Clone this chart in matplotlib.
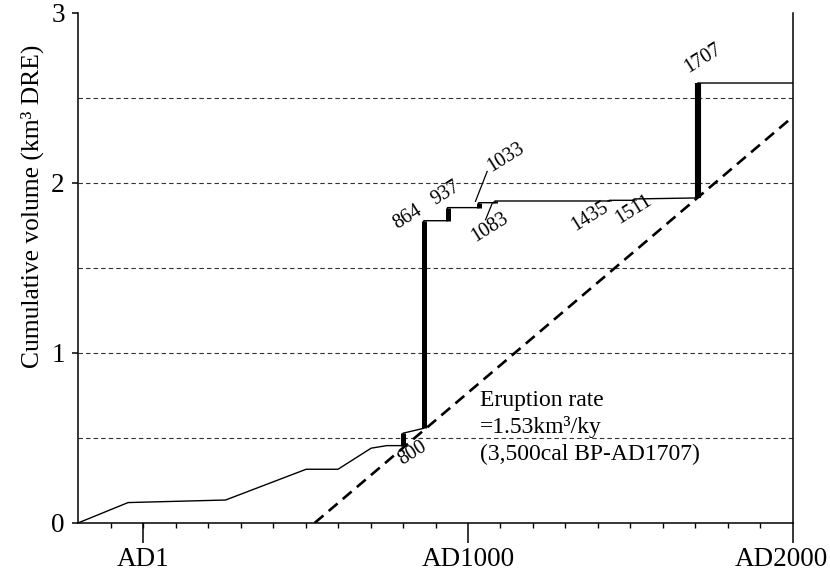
import matplotlib
matplotlib.use("Agg")
import matplotlib.pyplot as plt
import matplotlib.transforms as mtransforms

plt.rcParams['font.family'] = ['Liberation Serif', 'DejaVu Serif']

# cumulative volume curve (year, km3 DRE)
curve_years = [-200, -46, 254, 502, 600, 702, 750, 800, 800, 864, 864, 937, 937,
               1033, 1033, 1083, 1083, 1435, 1435, 1511, 1511, 1707, 1707, 2000]
curve_vols = [0, 0.12, 0.135, 0.316, 0.316, 0.44, 0.455, 0.455, 0.528, 0.557,
              1.778, 1.778, 1.855, 1.855, 1.884, 1.884, 1.894, 1.894, 1.898,
              1.898, 1.906, 1.912, 2.588, 2.588]

# eruptions: year, volume before, volume after
eruption_years = [800, 864, 937, 1033, 1083, 1435, 1511, 1707]
eruption_start = [0.455, 0.557, 1.778, 1.855, 1.884, 1.894, 1.898, 1.912]
eruption_end = [0.528, 1.778, 1.855, 1.884, 1.894, 1.898, 1.906, 2.588]
eruption_labels = ['800', '864', '937', '1033', '1083', '1435', '1511', '1707']
label_pos = [(829, 0.41), (814, 1.80), (931, 1.94), (1116, 2.15),
             (1066, 1.74), (1374, 1.80), (1510, 1.84), (1722, 2.73)]

# long-term eruption rate line
rate_years = [528, 2000]
rate_vols = [0, 2.39]

xtick_pos = [1, 1000, 2000]
xtick_labels = ['AD1', 'AD1000', 'AD2000']
ytick_pos = [0, 1, 2, 3]

fig = plt.figure(figsize=(8.3, 5.74), dpi=100)
ax = fig.add_axes([0.094, 0.0889, 0.8614, 0.8885])
ax.set_xlim(-200, 2000)
ax.set_ylim(0, 3)

# grid lines every 0.5
for g in [0.5, 1, 1.5, 2, 2.5]:
    ax.axhline(g, color='#333333', lw=0.8, ls=(0, (4, 2.8)), zorder=1)

ax.plot(curve_years, curve_vols, color='black', lw=1.0, zorder=3)
ax.vlines(eruption_years[:-1], eruption_start[:-1], eruption_end[:-1],
          color='black', lw=3.6, zorder=4)
ax.vlines(eruption_years[-1:], eruption_start[-1:], eruption_end[-1:],
          color='black', lw=4.4, zorder=4)
ax.plot(rate_years, rate_vols, color='black', lw=1.9, ls=(0, (4.4, 2.6)),
        zorder=2, clip_on=True)

for lab, (lx, ly) in zip(eruption_labels, label_pos):
    ax.text(lx, ly, lab, rotation=32, ha='center', va='center', fontsize=14.5,
            zorder=5)

# leader lines for the small eruptions
ax.plot([1023, 1059], [1.892, 2.068], color='black', lw=0.9)
ax.plot([1075, 1054], [1.882, 1.784], color='black', lw=0.9)

ax.text(1038, 0.69, 'Eruption rate', fontsize=17, va='baseline')
ax.text(1038, 0.53, '=1.53km³/ky', fontsize=17, va='baseline')
ax.text(1038, 0.37, '(3,500cal BP-AD1707)', fontsize=17, va='baseline')

ax.spines['top'].set_visible(False)
for s in ['left', 'bottom', 'right']:
    ax.spines[s].set_linewidth(1.1)

ax.set_xticks(xtick_pos)
ax.set_xticklabels(xtick_labels, fontsize=19.5)
ax.set_xticks(range(-100, 2000, 100), minor=True)
ax.tick_params(axis='x', which='major', length=14.5, width=1.1, pad=2.5)
ax.tick_params(axis='x', which='minor', length=3.6, width=1.0)
ax.set_yticks(ytick_pos)
ax.set_yticklabels([str(v) for v in ytick_pos], fontsize=19.5)
ax.tick_params(axis='y', which='major', length=4.5, width=1.1, pad=5)

# keep the last x label inside the figure
last = ax.get_xticklabels()[-1]
last.set_transform(last.get_transform() +
                   mtransforms.ScaledTranslation(-0.12, 0, fig.dpi_scale_trans))

ax.set_ylabel('Cumulative volume (km³ DRE)', fontsize=18.4)
ax.yaxis.set_label_coords(-0.048, 0.62)

fig.savefig('out.png', dpi=100)
